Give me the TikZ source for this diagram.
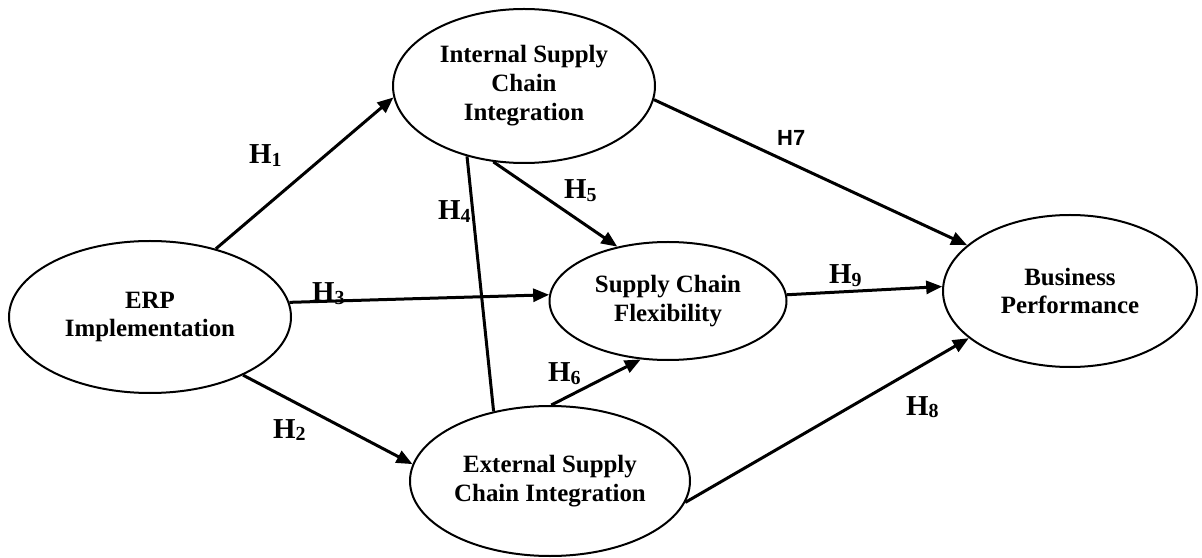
\documentclass[tikz,border=0pt]{standalone}
\usepackage{fontspec}
\setmainfont{Liberation Serif}
\newfontfamily\labsans{Liberation Sans}
\usetikzlibrary{shapes.geometric,arrows.meta}
\newcommand\hyp[1]{H\raisebox{-2.5bp}{\fontsize{20}{20}\selectfont #1}}
\tikzset{
  construct/.style={ellipse,draw,line width=2bp,inner sep=0pt,align=center,
    font=\fontsize{25}{29}\selectfont\bfseries},
  path/.style={line width=3bp,-{Triangle[length=16bp,width=13bp]}},
  plainpath/.style={line width=3bp},
  hlab/.style={anchor=base west,inner sep=0pt,font=\fontsize{29}{29}\selectfont\bfseries}
}
\begin{document}
\begin{tikzpicture}[x=1bp,y=-1bp]
\useasboundingbox[fill=white] (0,0) rectangle (1202,558);
\node[construct,minimum width=282bp,minimum height=152bp] (erp) at (150,317) {ERP\\Implementation};
\node[construct,minimum width=262bp,minimum height=154bp] (isci) at (524,86) {Internal Supply\\Chain\\Integration};
\node[construct,minimum width=237bp,minimum height=118bp] (scf) at (668,301) {Supply Chain\\Flexibility};
\node[construct,minimum width=280bp,minimum height=150bp] (esci) at (550,481) {External Supply\\Chain Integration};
\node[construct,minimum width=254bp,minimum height=152bp] (bp) at (1070,291) {Business\\Performance};

\draw[path] (erp.46) -- (isci.185);
\draw[path] (erp.6) -- (scf.177);
\draw[path] (erp.-32) -- (esci.173);
\draw[plainpath] (isci.-129) -- (esci.129);
\draw[path] (isci.-112) -- (scf.133);
\draw[path] (esci.89) -- (scf.-115);
\draw[path] (isci.-6) -- (bp.156);
\draw[path] (esci.-9) -- (bp.205);
\draw[path] (scf.3) -- (bp.178);

\node[hlab] (h1) at (249,164) {\hyp{1}};
\node[hlab] (h3) at (312,302) {\hyp{3}};
\node[hlab] (h2) at (273,438) {\hyp{2}};
\node[hlab] (h4) at (438,220) {\hyp{4}};
\node[hlab] (h5) at (564,199) {\hyp{5}};
\node[hlab] (h6) at (548,382) {\hyp{6}};
\node[hlab,font=\fontsize{22}{22}\selectfont\labsans\bfseries] (h7) at (777,146) {H7};
\node[hlab] (h8) at (906,415) {\hyp{8}};
\node[hlab] (h9) at (829,284) {\hyp{9}};
\end{tikzpicture}
\end{document}
